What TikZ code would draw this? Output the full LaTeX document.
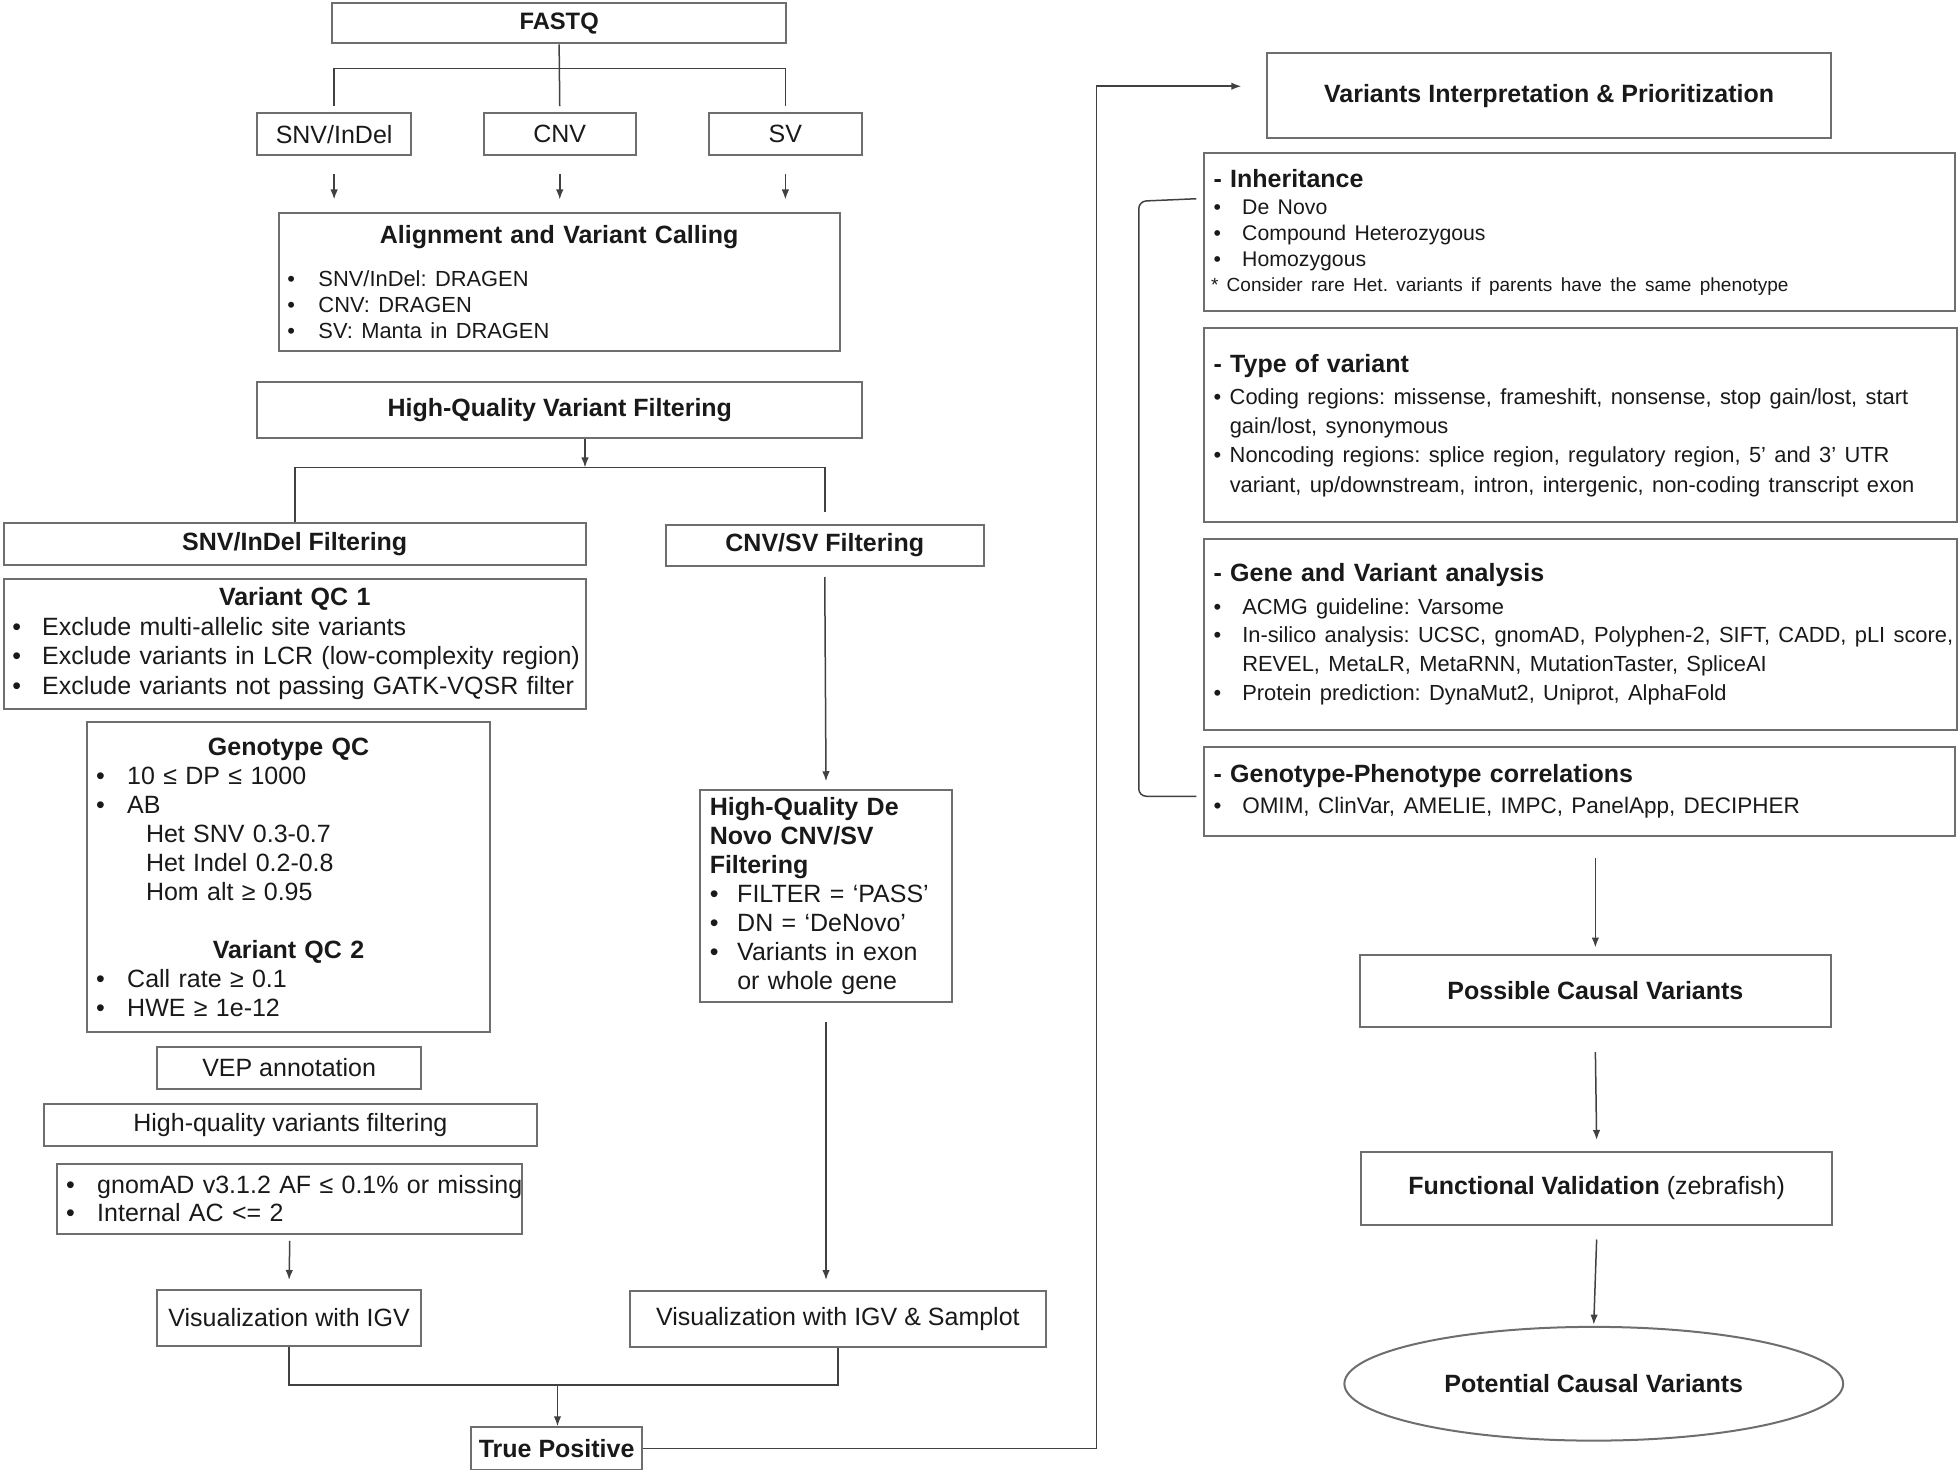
\documentclass[tikz,border=0pt]{standalone}
\usepackage{fontspec}
\setmainfont{Liberation Sans}
\usetikzlibrary{arrows.meta,shapes.geometric}
\definecolor{framegray}{RGB}{110,110,110}
\definecolor{linegray}{RGB}{65,65,65}
\newcommand{\bul}[2][12pt]{\makebox[#1][l]{\textbullet}\mbox{#2}}
\newcommand{\cont}[2][12pt]{\hspace*{#1}\mbox{#2}}
\frenchspacing

\begin{document}
\begin{tikzpicture} [
  x=0.5pt, y=-0.5pt,
  box/.style= {draw=framegray, line width=0.8pt, anchor=north west, inner sep=0pt, text=black!90},
  plain box/.style= {box, align=center, font=\fontsize{10}{12}\selectfont},
  title box/.style= {box, align=center, font=\fontsize{10}{12}\selectfont\bfseries},
  list box/.style= {box, inner xsep=4pt, font=\fontsize{10}{11.75}\selectfont},
  link/.style= {draw=linegray, line width=0.6pt},
  arr/.style= {link, -{Latex[length=4pt,width=3pt]}},
]
\useasboundingbox (0,0) rectangle (1568,1176);

% left column: calling
\node (fastq) [title box, font=\fontsize{9.5}{11}\selectfont\bfseries, minimum width=181.5pt, minimum height=16pt] at (265,2) {FASTQ};
\node (snv) [plain box, minimum width=61.5pt, minimum height=16.5pt] at (205,90) {SNV/InDel};
\node (cnv) [plain box, minimum width=61pt, minimum height=16.5pt] at (386,90) {CNV};
\node (sv) [plain box, minimum width=61.5pt, minimum height=16.5pt] at (566,90) {SV};
\node (align) [list box, inner xsep=3.5pt, text width=217.5pt, minimum height=55pt] at (222,170) {%
  {\centering\bfseries Alignment and Variant Calling\par}\vspace{6.5pt}
  {\fontsize{8.75}{10.5}\selectfont
  \bul[12.5pt]{SNV/InDel: DRAGEN}\\
  \bul[12.5pt]{CNV: DRAGEN}\\
  \bul[12.5pt]{SV: Manta in DRAGEN}\par}};
\node (hqvf) [title box, minimum width=242pt, minimum height=22.5pt] at (205,305) {High-Quality Variant Filtering};

% left column: SNV/InDel branch
\node (snvf) [title box, minimum width=233pt, minimum height=16.5pt] at (2,418) {SNV/InDel Filtering};
\node (qc1) [list box, inner xsep=3.5pt, text width=226pt, minimum height=52pt] at (2,462) {%
  {\centering\bfseries Variant QC 1\par}
  \bul{Exclude multi-allelic site variants}\\
  \bul{Exclude variants in LCR (low-complexity region)}\\
  \bul{Exclude variants not passing GATK-VQSR filter}\par};
\node (gqc) [list box, inner xsep=3.5pt, text width=154pt, minimum height=124pt, font=\fontsize{10}{11.6}\selectfont] at (69,577) {%
  {\centering\bfseries Genotype QC\par}
  \bul[12.5pt]{10 ≤ DP ≤ 1000}\\
  \bul[12.5pt]{AB}\\
  \cont[20pt]{Het SNV 0.3-0.7}\\
  \cont[20pt]{Het Indel 0.2-0.8}\\
  \cont[20pt]{Hom alt ≥ 0.95}\par
  \vspace{11.6pt}
  {\centering\bfseries Variant QC 2\par}
  \bul[12.5pt]{Call rate ≥ 0.1}\\
  \bul[12.5pt]{HWE ≥ 1e-12}\par};
\node (vep) [plain box, minimum width=105.5pt, minimum height=16.5pt] at (125,837) {VEP annotation};
\node (hqvar) [plain box, minimum width=197.5pt, minimum height=17pt] at (34,882) {High-quality variants filtering};
\node (gnomad) [list box, inner xsep=3.5pt, text width=179pt, minimum height=28pt, font=\fontsize{10}{11.5}\selectfont] at (45,930) {%
  \bul[12.5pt]{gnomAD v3.1.2 AF ≤ 0.1\% or missing}\\
  \bul[12.5pt]{Internal AC <= 2}\par};
\node (igv) [plain box, minimum width=105.5pt, minimum height=22.5pt] at (125,1031) {Visualization with IGV};

% left column: CNV/SV branch
\node (cnvf) [title box, minimum width=127pt, minimum height=16.5pt] at (532,419) {CNV/SV Filtering};
\node (denovo) [list box, text width=93pt, minimum height=85pt, font=\fontsize{10}{11.6}\selectfont] at (559,631) {%
  {\bfseries High-Quality De\\ Novo CNV/SV\\ Filtering\par}
  \bul[11pt]{FILTER = ‘PASS’}\\
  \bul[11pt]{DN = ‘DeNovo’}\\
  \bul[11pt]{Variants in exon}\\
  \cont[11pt]{or whole gene}\par};
\node (samplot) [plain box, minimum width=166.5pt, minimum height=22.5pt] at (503,1032) {Visualization with IGV \& Samplot};
\node (truepos) [title box, minimum width=68.5pt, minimum height=17pt] at (376,1141) {True Positive};

% right column
\node (interp) [title box, minimum width=225.5pt, minimum height=34pt] at (1013,42) {Variants Interpretation \& Prioritization};
\node (inherit) [list box, text width=292.5pt, minimum height=63pt] at (962,122) {%
  {\bfseries - Inheritance\par}\vspace{0.75pt}
  {\fontsize{8.5}{10.25}\selectfont
  \bul[11.5pt]{De Novo}\\
  \bul[11.5pt]{Compound Heterozygous}\\
  \bul[11.5pt]{Homozygous}\par}
  {\fontsize{7.6}{10}\selectfont \hspace*{-1pt}\mbox{* Consider rare Het. variants if parents have the same phenotype}\par}};
\node (typev) [list box, text width=293.5pt, minimum height=77.5pt] at (962,262) {%
  {\bfseries - Type of variant\par}\vspace{1.35pt}
  {\fontsize{8.75}{11.65}\selectfont
  \bul[6.5pt]{Coding regions: missense, frameshift, nonsense, stop gain/lost, start}\\
  \cont[6.5pt]{gain/lost, synonymous}\\
  \bul[6.5pt]{Noncoding regions: splice region, regulatory region, 5’ and 3’ UTR}\\
  \cont[6.5pt]{variant, up/downstream, intron, intergenic, non-coding transcript exon}\par}};
\node (genev) [list box, text width=293.5pt, minimum height=76.5pt] at (962,430) {%
  {\bfseries - Gene and Variant analysis\par}\vspace{1.5pt}
  {\fontsize{8.75}{11.5}\selectfont
  \bul[11.5pt]{ACMG guideline: Varsome}\\
  \bul[11.5pt]{In-silico analysis: UCSC, gnomAD, Polyphen-2, SIFT, CADD, pLI score,}\\
  \cont[11.5pt]{REVEL, MetaLR, MetaRNN, MutationTaster, SpliceAI}\\
  \bul[11.5pt]{Protein prediction: DynaMut2, Uniprot, AlphaFold}\par}};
\node (gpc) [list box, text width=292.5pt, minimum height=35.5pt] at (962,597) {%
  {\bfseries - Genotype-Phenotype correlations\par}\vspace{0.5pt}
  {\fontsize{9}{12}\selectfont
  \bul[11.5pt]{OMIM, ClinVar, AMELIE, IMPC, PanelApp, DECIPHER}\par}};
\node (possible) [title box, minimum width=188.5pt, minimum height=29pt] at (1087,763) {Possible Causal Variants};
\node (funcval) [plain box, minimum width=188.5pt, minimum height=29pt] at (1088,921) {\textbf{Functional Validation} (zebrafish)};
\node (potential) [box, ellipse, anchor=center, font=\fontsize{10}{12}\selectfont\bfseries, minimum width=199.5pt, minimum height=45.5pt] at (1275,1107) {Potential Causal Variants};

% connectors
\coordinate (fsplit) at (447,55);
\coordinate (hsplit) at (468,374);
\coordinate (tsplit) at (446,1108);
\coordinate (fbtop) at (877,69);
\coordinate (brtop) at (957,159);
\coordinate (brbot) at (957,637);

\draw[link] (fastq.south) -- ([yshift=2.5pt]cnv.north);
\draw[link] ([yshift=2.5pt]snv.north) |- (fsplit) -| ([yshift=2.5pt]sv.north);
\draw[arr] ([yshift=-7.5pt]snv.south) -- ([yshift=-17.5pt]snv.south);
\draw[arr] ([yshift=-7.5pt]cnv.south) -- ([yshift=-17.5pt]cnv.south);
\draw[arr] ([yshift=-7.5pt]sv.south) -- ([yshift=-17.5pt]sv.south);

\draw[arr] (hqvf.south -| hsplit) -- (hsplit);
\draw[link] (snvf.north) |- (hsplit) -| ([yshift=4.5pt]cnvf.north);
\draw[arr] ([yshift=-4pt]cnvf.south) -- ([yshift=3pt]denovo.north);
\draw[arr] ([yshift=-7.5pt]denovo.south) -- ([yshift=4pt]denovo.south |- samplot.north);
\draw[arr] ([yshift=-2.5pt]gnomad.south) -- ([yshift=3.5pt]igv.north);
\draw[link] (igv.south) |- (tsplit) -| (samplot.south);
\draw[arr] (tsplit) -- (tsplit |- truepos.north);
\draw[arr] (truepos.east) -| (fbtop) -- ([xshift=-10pt]interp.west |- fbtop);

\draw[link, rounded corners=3pt] (brtop) -- ++(-46,2) |- (brbot);
\draw[arr] ([yshift=-8.5pt]possible.north |- gpc.south) -- ([yshift=2.5pt]possible.north);
\draw[arr] ([yshift=-9.5pt]possible.south) -- ([yshift=4.5pt]funcval.north);
\draw[arr] ([yshift=-5.5pt]funcval.south) -- ([yshift=0.5pt]potential.north);

\end{tikzpicture}
\end{document}
